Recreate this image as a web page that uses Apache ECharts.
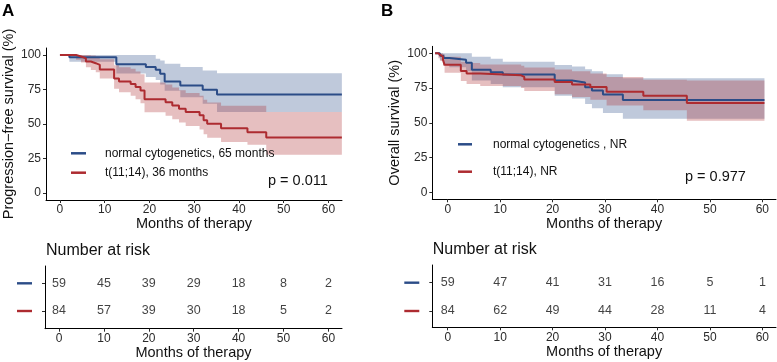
<!DOCTYPE html>
<html><head><meta charset="utf-8">
<script src="https://cdn.jsdelivr.net/npm/echarts@6/dist/echarts.min.js"></script>
<style>html,body{margin:0;padding:0;background:#fff}#c{width:777px;height:362px}</style>
</head><body><div id="c"></div>
<script>
// ---------- Panel A: progression-free survival ----------
const pfsNormT = [0, 2.1, 12.6, 19.2, 21.4, 22.4, 23.4, 26.9, 31.9, 35.1, 63];
const pfsNormS = [100, 98.3, 93.2, 91.2, 89.3, 86.3, 80.8, 77.9, 74.8, 71.4, 71.4];
const pfsNormU = [100, 100, 100, 100, 97.3, 96, 93.6, 91.2, 88.8, 86.8, 86.8];
const pfsNormL = [100, 95, 86.5, 84, 81.8, 78.5, 74, 69.4, 64.6, 58.6, 58.6];

const pfsT1114T = [0, 3.6, 4.7, 5.8, 6.9, 8.0, 8.9, 12.1, 13.2, 15.8, 16.9, 18.0, 18.9, 23.6, 25.1, 26.6, 28.1, 31.2, 32.1, 32.9, 36.0, 41.9, 46.1, 63];
const pfsT1114S = [100, 98.8, 97.6, 95.2, 94.0, 92.8, 89.5, 83.0, 80.8, 79.0, 76.8, 74.2, 68.0, 65.8, 63.4, 61.0, 58.6, 56.4, 52.8, 50.1, 47.0, 44.1, 40.2, 40.2];
const pfsT1114U = [100, 100, 100, 100, 99.5, 98.8, 96.8, 92.5, 91, 90, 88, 86, 80, 78.5, 76.5, 74.5, 72.5, 70.5, 67.5, 65.5, 63.2, 63.2, 58.6, 58.6];
const pfsT1114L = [100, 96.5, 94.5, 91, 89, 87.5, 83, 75.5, 73, 70.5, 68, 65, 58.5, 56, 53.5, 51, 48.5, 46, 42.5, 40, 37, 35, 27.7, 27.7];

// ---------- Panel B: overall survival ----------
const osNormT = [-2.4, -1.5, -0.8, 0.3, 3.5, 4.6, 8.2, 10.5, 20.4, 23.7, 26.2, 27.5, 29.6, 33.4, 60.4];
const osNormS = [100, 98.3, 96.6, 95.3, 93.2, 88.2, 86.4, 84.8, 80.4, 79.0, 75.5, 73.2, 70.3, 66.4, 66.4];
const osNormU = [100, 100, 100, 100, 100, 97.5, 96, 94, 91.5, 90.5, 88.5, 87, 85, 82, 82];
const osNormL = [100, 95, 92, 90, 87, 80.5, 78, 75.5, 69.5, 67.5, 63.5, 60.5, 57, 53, 53];

const osT1114T = [-2.4, -1.8, -1.4, -0.9, -0.6, 2.5, 3.6, 6.2, 14.0, 14.6, 20.4, 23.7, 27.2, 30.3, 37.3, 45.6, 60.4];
const osT1114S = [100, 98.8, 97.6, 95.3, 91.7, 87.3, 85.5, 84.2, 83.0, 81.2, 79.3, 77.5, 75.8, 72.3, 69.5, 64.3, 64.3];
const osT1114U = [100, 100, 100, 99.5, 97.5, 94, 93, 92, 91, 89.8, 88.3, 87, 85.5, 83, 81, 80.5, 80.5];
const osT1114L = [100, 96.5, 94.5, 91, 86, 80, 78, 76.5, 75, 72.8, 70.5, 68.5, 66.5, 62.5, 59, 51.5, 51.5];

// ---------- Number at risk ----------
const riskTimes = [0, 10, 20, 30, 40, 50, 60];
const pfsRiskNorm = [59, 45, 39, 29, 18, 8, 2];
const pfsRiskT1114 = [84, 57, 39, 30, 18, 5, 2];
const osRiskNorm = [59, 47, 41, 31, 16, 5, 1];
const osRiskT1114 = [84, 62, 49, 44, 28, 11, 4];

// ---------- Ticks & labels ----------
const xTicks = [0, 10, 20, 30, 40, 50, 60];
const yTicks = [0, 25, 50, 75, 100];
const namesA = ['normal cytogenetics, 65 months', 't(11;14), 36 months'];
const namesB = ['normal cytogenetics , NR', 't(11;14), NR'];
const pA = 'p = 0.011', pB = 'p = 0.977';
const xTitle = 'Months of therapy';
const yTitleA = 'Progression\u2212free survival (%)';
const yTitleB = 'Overall survival (%)';

const FONT = '"Liberation Sans", Arial, Helvetica, sans-serif';
const BLUE = '#2b4c87', RED = '#ad2b30';
const TXT = '#111', TICK = '#2a2a2a';

const chart = echarts.init(document.getElementById('c'), null, {renderer: 'canvas'});

// confidence band: one step-shaped polygon drawn through the axis scales
function band(t, lo, up, color, idx) {
  return {type: 'custom', xAxisIndex: idx, yAxisIndex: idx, silent: true, z: 1,
    data: t.map((x, i) => [x, lo[i], up[i]]),
    encode: {x: 0, y: [1, 2]},
    renderItem: (params, api) => {
      if (params.dataIndex !== 0) return null;
      const n = t.length, pts = [];
      for (let i = 0; i < n; i++) {
        if (i > 0) pts.push(api.coord([t[i], up[i - 1]]));
        pts.push(api.coord([t[i], up[i]]));
      }
      for (let i = n - 1; i >= 0; i--) {
        pts.push(api.coord([t[i], lo[i]]));
        if (i > 0) pts.push(api.coord([t[i], lo[i - 1]]));
      }
      return {type: 'polygon', shape: {points: pts}, style: {fill: color, opacity: 0.3}};
    }};
}
function curve(name, t, s, color, idx) {
  return {type: 'line', name, xAxisIndex: idx, yAxisIndex: idx, step: 'end', symbol: 'none', color,
    data: t.map((x, i) => [x, s[i]]), lineStyle: {color, width: 2}, z: 3, silent: true};
}
function risk(vals, row, idx) {
  return {type: 'scatter', xAxisIndex: idx, yAxisIndex: idx, symbolSize: 1, itemStyle: {color: 'rgba(0,0,0,0)'}, silent: true,
    data: riskTimes.map((t, i) => [t, row, vals[i]]),
    label: {show: true, position: 'inside', formatter: p => String(p.value[2]), fontSize: 12.5, color: TXT, fontFamily: FONT}};
}
function xAxisDef(grid, min, max) {
  return {type: 'value', gridIndex: grid, min, max, name: xTitle, nameLocation: 'middle', nameGap: 16,
    nameTextStyle: {fontSize: 14.5, color: TXT, fontFamily: FONT},
    axisLine: {onZero: false, lineStyle: {color: '#000', width: 1}},
    axisTick: {customValues: xTicks, length: 3, lineStyle: {color: TICK}},
    axisLabel: {customValues: xTicks, fontSize: 12, color: TICK, margin: 4, fontFamily: FONT},
    splitLine: {show: false}};
}
function yMain(grid, name) {
  return {type: 'value', gridIndex: grid, min: -5, max: 105, name, nameLocation: 'middle', nameRotate: 90, nameGap: 30,
    nameTextStyle: {fontSize: 14.5, color: TXT, fontFamily: FONT},
    axisLine: {show: true, onZero: false, lineStyle: {color: '#000', width: 1}},
    axisTick: {show: true, customValues: yTicks, length: 3, lineStyle: {color: TICK}},
    axisLabel: {customValues: yTicks, fontSize: 12, color: TICK, margin: 5, fontFamily: FONT},
    splitLine: {show: false}};
}
function yRisk(grid, min, max, margin) {
  return {type: 'value', gridIndex: grid, min, max,
    axisLine: {show: true, onZero: false, lineStyle: {color: '#000', width: 1}},
    axisTick: {show: true, customValues: [1, 2], length: 3, lineStyle: {color: TICK}},
    axisLabel: {customValues: [1, 2], margin, formatter: v => (v === 2 ? '{b| }' : '{r| }'),
      rich: {b: {width: 15, height: 2.4, backgroundColor: BLUE, fontSize: 1}, r: {width: 15, height: 2.4, backgroundColor: RED, fontSize: 1}}},
    splitLine: {show: false}};
}

const option = {
  backgroundColor: '#fff',
  animation: false,
  textStyle: {fontFamily: FONT},
  grid: [
    {left: 45, top: 48, width: 297, height: 152},
    {left: 45, top: 266, width: 297, height: 62.7},
    {left: 432.3, top: 46.35, width: 343.7, height: 152.9},
    {left: 432.3, top: 265, width: 343.7, height: 62.3}
  ],
  xAxis: [
    xAxisDef(0, -3.12, 63.03),
    xAxisDef(1, -3.12, 63.03),
    xAxisDef(2, -2.94, 62.6),
    xAxisDef(3, -2.94, 62.6)
  ],
  yAxis: [
    yMain(0, yTitleA),
    yRisk(1, 0.361, 2.625, 13),
    yMain(2, yTitleB),
    yRisk(3, 0.424, 2.625, 13)
  ],
  legend: [
    {data: namesA, left: 71, top: 143.6, orient: 'vertical', itemGap: 0, itemWidth: 15, itemHeight: 2.5, icon: 'rect',
      padding: 0, selectedMode: false, textStyle: {fontSize: 12, color: TXT, lineHeight: 19.4, padding: [0, 0, 0, 14], fontFamily: FONT}},
    {data: namesB, left: 458, top: 130.6, orient: 'vertical', itemGap: 0, itemWidth: 14, itemHeight: 2.5, icon: 'rect',
      padding: 0, selectedMode: false, textStyle: {fontSize: 12, color: TXT, lineHeight: 27.4, padding: [0, 0, 0, 16], fontFamily: FONT}}
  ],
  graphic: [
    {type: 'text', left: 2, top: 3, style: {text: 'A', font: 'bold 17px ' + FONT, fill: '#000'}},
    {type: 'text', left: 381, top: 3, style: {text: 'B', font: 'bold 17px ' + FONT, fill: '#000'}},
    {type: 'text', left: 46, top: 243, style: {text: 'Number at risk', font: '16px ' + FONT, fill: TXT}},
    {type: 'text', left: 432.7, top: 242, style: {text: 'Number at risk', font: '16px ' + FONT, fill: TXT}},
    {type: 'text', left: 268, top: 173.5, style: {text: pA, font: '14.5px ' + FONT, fill: TXT}},
    {type: 'text', left: 685, top: 169, style: {text: pB, font: '14.5px ' + FONT, fill: TXT}}
  ],
  series: [
    band(pfsNormT, pfsNormL, pfsNormU, BLUE, 0),
    band(pfsT1114T, pfsT1114L, pfsT1114U, RED, 0),
    curve(namesA[0], pfsNormT, pfsNormS, BLUE, 0),
    curve(namesA[1], pfsT1114T, pfsT1114S, RED, 0),
    risk(pfsRiskNorm, 2, 1),
    risk(pfsRiskT1114, 1, 1),
    band(osNormT, osNormL, osNormU, BLUE, 2),
    band(osT1114T, osT1114L, osT1114U, RED, 2),
    curve(namesB[0], osNormT, osNormS, BLUE, 2),
    curve(namesB[1], osT1114T, osT1114S, RED, 2),
    risk(osRiskNorm, 2, 3),
    risk(osRiskT1114, 1, 3)
  ]
};
chart.setOption(option);
</script></body></html>
